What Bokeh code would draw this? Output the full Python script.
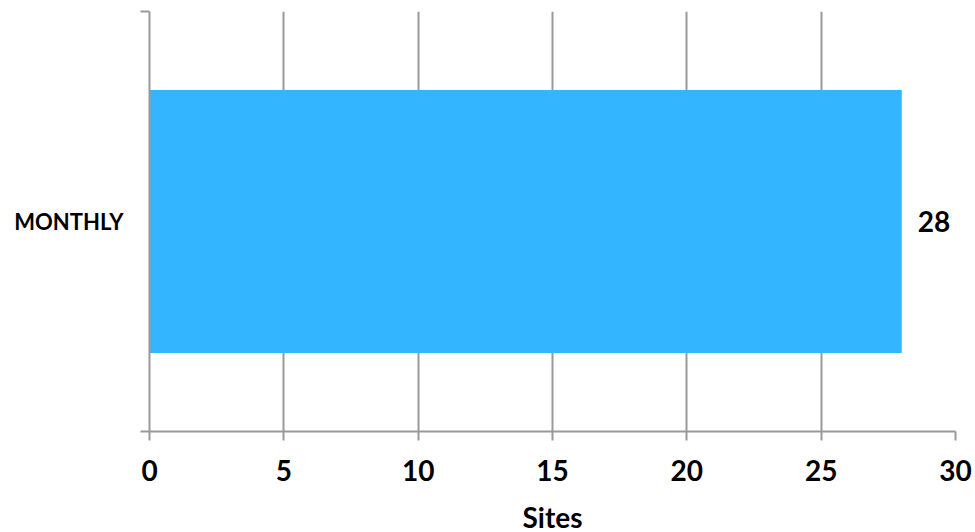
from bokeh.plotting import figure
from bokeh.models import (Range1d, LinearAxis, FixedTicker, ColumnDataSource, LabelSet)
from bokeh.core.properties import value
from bokeh.embed import file_html
from bokeh.resources import INLINE

categories = ["MONTHLY"]
sites = [28]
labels = ["28"]
x_ticks = [0, 5, 10, 15, 20, 25, 30]

FONT = "Lato"
GRAY = "#999999"

pos = list(range(len(categories)))
edges = [i - 0.5 for i in range(len(categories) + 1)]
src = ColumnDataSource(dict(pos=pos, cat=categories, val=sites, lab=labels))

p = figure(y_range=Range1d(-0.5, len(categories) - 0.5),
           x_range=Range1d(0, 30),
           frame_width=806, frame_height=420,
           min_border_left=149, min_border_right=20,
           min_border_top=11, min_border_bottom=100,
           output_backend="svg", toolbar_location=None,
           y_axis_location=None, x_axis_location="below")
p.outline_line_color = None
p.background_fill_color = "white"

p.hbar(y="pos", right="val", left=0, height=0.626, source=src,
       fill_color="#33B5FF", line_color=None)

p.add_layout(LabelSet(x="val", y="pos", text="lab", source=src,
                      x_offset=16, text_baseline="middle",
                      text_font=value(FONT), text_font_style="bold",
                      text_font_size="28px", text_color="black"))

# x axis
xa = p.xaxis[0]
xa.ticker = FixedTicker(ticks=x_ticks)
xa.axis_line_color = GRAY
xa.axis_line_width = 2
xa.major_tick_line_color = GRAY
xa.major_tick_line_width = 2
xa.major_tick_out = 9
xa.major_tick_in = 0
xa.minor_tick_line_color = None
xa.major_label_text_font = FONT
xa.major_label_text_font_style = "bold"
xa.major_label_text_font_size = "28px"
xa.major_label_text_color = "black"
xa.major_label_standoff = 19
xa.axis_label = "Sites"
xa.axis_label_text_font = FONT
xa.axis_label_text_font_style = "bold"
xa.axis_label_text_font_size = "28px"
xa.axis_label_text_color = "black"
xa.axis_label_standoff = 16

p.xgrid.ticker = FixedTicker(ticks=x_ticks)
p.xgrid.grid_line_color = GRAY
p.xgrid.grid_line_width = 2
p.ygrid.grid_line_color = None

# category axis: label at the category centre, ticks at category boundaries
ca = LinearAxis(ticker=FixedTicker(ticks=pos, minor_ticks=edges),
                major_label_overrides={i: c for i, c in zip(pos, categories)})
ca.axis_line_color = GRAY
ca.axis_line_width = 2
ca.major_tick_line_color = None
ca.major_tick_out = 9
ca.major_tick_in = 0
ca.minor_tick_line_color = GRAY
ca.minor_tick_line_width = 2
ca.minor_tick_out = 9
ca.minor_tick_in = 0
ca.major_label_text_font = FONT
ca.major_label_text_font_style = "bold"
ca.major_label_text_font_size = "22px"
ca.major_label_text_color = "black"
ca.major_label_standoff = 17
p.add_layout(ca, "left")

open("out.html", "w").write(file_html(p, INLINE))
